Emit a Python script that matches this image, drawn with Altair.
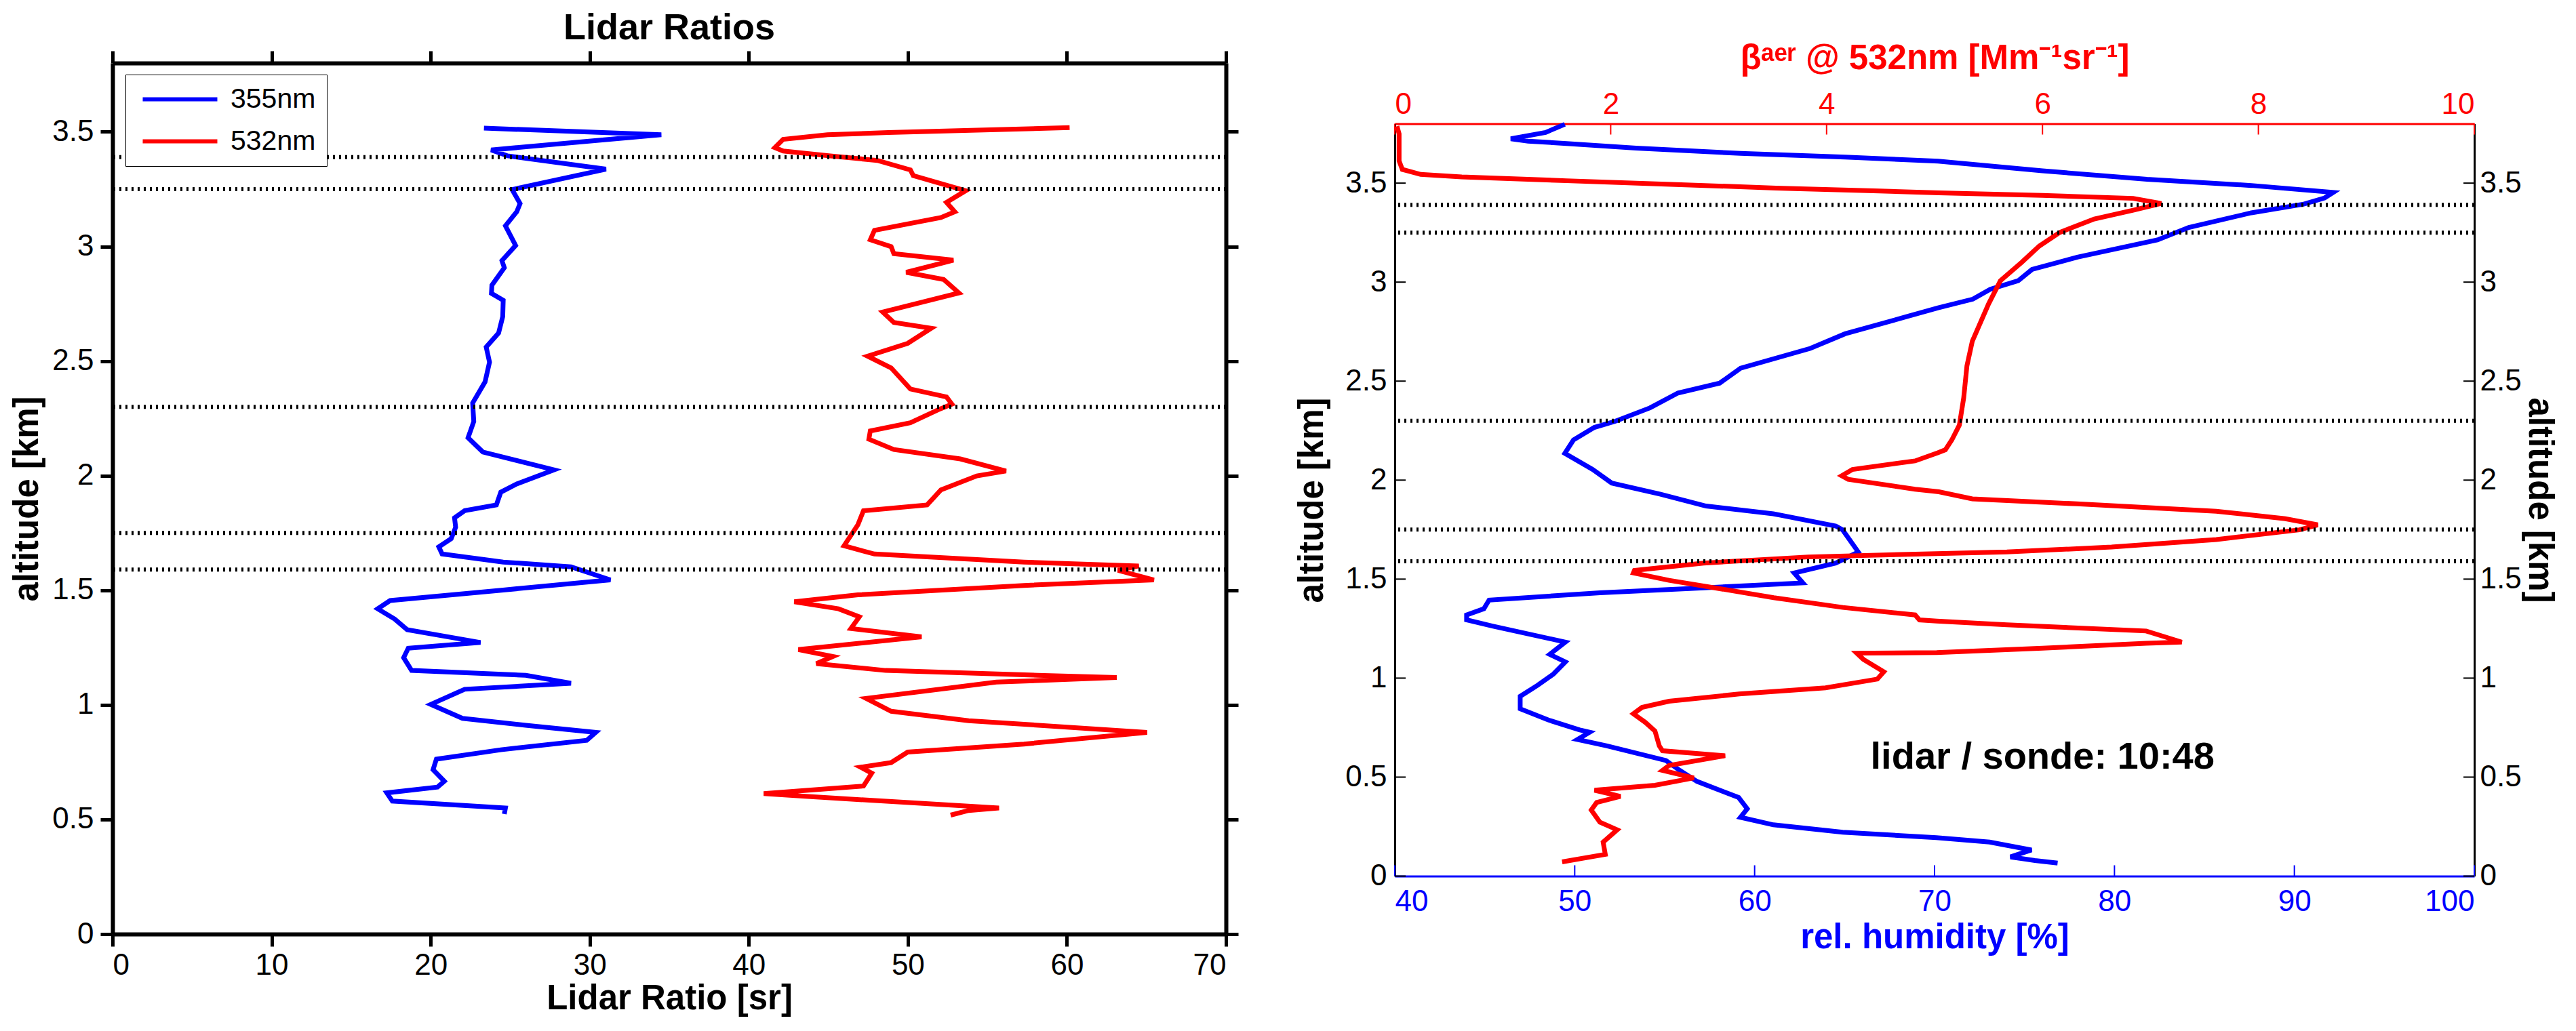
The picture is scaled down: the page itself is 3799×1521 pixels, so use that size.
import altair as alt
import pandas as pd

# ---------------- data ----------------
SERIES = ["355nm", "532nm"]

LR355_ALT = [3.516, 3.487, 3.421, 3.395, 3.337, 3.248, 3.187, 3.151, 3.090, 3.004, 2.938, 2.907,
             2.831, 2.795, 2.765, 2.694, 2.622, 2.561, 2.495, 2.409, 2.317, 2.236, 2.165, 2.103,
             2.025, 1.964, 1.928, 1.872, 1.847, 1.816, 1.775, 1.725, 1.689, 1.658, 1.623, 1.602,
             1.545, 1.501, 1.455, 1.419, 1.374, 1.328, 1.272, 1.247, 1.206, 1.150, 1.129, 1.094,
             1.068, 1.002, 0.941, 0.911, 0.880, 0.845, 0.804, 0.763, 0.717, 0.667, 0.641, 0.616,
             0.580, 0.550, 0.524]
LR355_VAL = [23.35, 34.5, 23.8, 24.84, 31.02, 25.12, 25.62, 25.41, 24.70, 25.34, 24.48, 24.63,
             23.85, 23.82, 24.56, 24.53, 24.27, 23.49, 23.70, 23.42, 22.64, 22.71, 22.35, 23.28,
             27.75, 25.41, 24.41, 24.13, 22.14, 21.50, 21.57, 21.29, 20.51, 20.72, 24.56, 28.82,
             31.30, 24.56, 17.45, 16.67, 17.74, 18.52, 23.13, 18.59, 18.30, 18.80, 25.98, 28.82,
             22.14, 20.01, 22.0, 25.98, 30.38, 29.81, 24.41, 20.36, 20.15, 20.86, 20.43, 17.24,
             17.59, 24.70, 24.63]

LR532_ALT = [3.518, 3.497, 3.487, 3.467, 3.431, 3.416, 3.395, 3.375, 3.334, 3.309, 3.243, 3.192,
             3.151, 3.126, 3.070, 3.029, 2.999, 2.968, 2.940, 2.887, 2.856, 2.797, 2.714, 2.668,
             2.643, 2.577, 2.521, 2.470, 2.378, 2.343, 2.312, 2.287, 2.231, 2.195, 2.159, 2.114,
             2.073, 2.020, 1.999, 1.938, 1.872, 1.847, 1.786, 1.694, 1.658, 1.623, 1.606, 1.587,
             1.545, 1.521, 1.480, 1.450, 1.419, 1.384, 1.333, 1.297, 1.241, 1.211, 1.180, 1.150,
             1.129, 1.119, 1.099, 1.028, 0.972, 0.931, 0.880, 0.829, 0.794, 0.748, 0.728, 0.702,
             0.646, 0.613, 0.600, 0.550, 0.539, 0.519]
LR532_VAL = [60.17, 48.77, 44.95, 42.16, 41.64, 42.16, 45.12, 48.08, 50.16, 50.34, 53.64, 52.43,
             52.95, 52.08, 47.90, 47.64, 48.95, 49.12, 52.86, 49.90, 52.25, 53.21, 48.42, 49.12,
             51.47, 49.99, 47.47, 48.95, 50.16, 52.43, 52.77, 51.90, 50.16, 47.64, 47.55, 49.12,
             53.30, 56.17, 54.34, 52.08, 51.21, 47.21, 46.86, 45.99, 47.90, 57.30, 64.52, 63.21,
             65.47, 57.30, 46.86, 42.86, 45.64, 46.95, 46.42, 50.86, 43.12, 45.29, 44.25, 48.60,
             58.17, 63.13, 55.56, 47.38, 48.95, 53.82, 65.04, 57.30, 49.99, 48.95, 47.03, 47.73,
             47.21, 40.94, 43.73, 55.73, 53.82, 52.69]

RH_ALT = [3.797, 3.756, 3.724, 3.712, 3.700, 3.677, 3.650, 3.631, 3.611, 3.562, 3.519, 3.488,
          3.453, 3.425, 3.394, 3.350, 3.276, 3.213, 3.126, 3.064, 3.007, 2.964, 2.914, 2.870,
          2.827, 2.739, 2.665, 2.565, 2.490, 2.440, 2.365, 2.297, 2.266, 2.203, 2.135, 2.054,
          1.985, 1.929, 1.869, 1.830, 1.768, 1.749, 1.637, 1.581, 1.531, 1.481, 1.456, 1.431,
          1.394, 1.350, 1.319, 1.294, 1.263, 1.182, 1.120, 1.082, 1.020, 0.964, 0.908, 0.845,
          0.789, 0.739, 0.727, 0.690, 0.658, 0.584, 0.534, 0.478, 0.397, 0.340, 0.297, 0.259,
          0.222, 0.194, 0.172, 0.132, 0.097, 0.079, 0.066]
RH_VAL = [49.45, 48.38, 46.45, 47.41, 49.54, 53.41, 59.22, 65.03, 70.2, 76.0, 81.81, 87.61,
          92.16, 91.68, 90.52, 87.61, 84.13, 82.39, 77.94, 75.42, 74.65, 73.10, 72.13, 70.2,
          68.51, 65.03, 63.09, 59.22, 58.06, 55.74, 54.19, 52.25, 51.09, 49.93, 49.45, 50.99,
          52.06, 54.77, 57.3, 61.04, 64.51, 64.89, 65.76, 64.51, 62.20, 62.68, 57.19, 51.41,
          45.24, 44.95, 43.99, 43.99, 45.43, 49.48, 48.61, 49.48, 48.81, 47.94, 46.97, 46.97,
          48.52, 50.25, 50.83, 50.15, 51.79, 55.07, 55.84, 56.80, 59.11, 59.59, 59.21, 61.04,
          64.89, 70.1, 73.06, 75.39, 74.22, 75.58, 76.84]

BETA_ALT = [3.787, 3.749, 3.612, 3.569, 3.544, 3.531, 3.512, 3.494, 3.475, 3.460, 3.451, 3.438,
            3.423, 3.397, 3.363, 3.319, 3.251, 3.182, 3.101, 3.007, 2.889, 2.702, 2.577, 2.415,
            2.278, 2.203, 2.153, 2.138, 2.097, 2.054, 2.022, 2.004, 1.954, 1.941, 1.905, 1.880,
            1.843, 1.805, 1.774, 1.749, 1.700, 1.662, 1.637, 1.629, 1.612, 1.581, 1.544, 1.531,
            1.494, 1.450, 1.406, 1.357, 1.319, 1.294, 1.288, 1.269, 1.238, 1.182, 1.176, 1.151,
            1.129, 1.126, 1.095, 1.032, 0.995, 0.951, 0.920, 0.883, 0.852, 0.820, 0.777, 0.733,
            0.658, 0.633, 0.608, 0.559, 0.534, 0.496, 0.459, 0.434, 0.403, 0.372, 0.334, 0.272,
            0.234, 0.172, 0.110, 0.072]
BETA_VAL = [0.02, 0.04, 0.04, 0.07, 0.24, 0.62, 1.59, 2.56, 3.53, 4.49, 5.04, 6.0,
            6.84, 7.10, 6.84, 6.48, 6.16, 5.97, 5.81, 5.61, 5.50, 5.35, 5.30, 5.27,
            5.23, 5.16, 5.10, 5.03, 4.82, 4.24, 4.14, 4.20, 4.82, 5.04, 5.35, 6.32,
            7.61, 8.25, 8.55, 8.38, 7.61, 6.64, 5.67, 5.02, 3.83, 2.86, 2.22, 2.21,
            2.54, 3.03, 3.51, 4.15, 4.82, 4.86, 5.02, 5.67, 6.96, 7.29, 6.96, 6.0,
            5.02, 4.28, 4.34, 4.53, 4.47, 3.99, 3.19, 2.54, 2.29, 2.21, 2.32, 2.41,
            2.45, 2.48, 3.06, 2.54, 2.48, 2.77, 2.41, 1.85, 2.09, 1.87, 1.82, 1.90,
            2.06, 1.93, 1.95, 1.55]

LAYER_ALT = [3.39, 3.25, 2.30, 1.75, 1.59]

LR_TICKS = [0, 10, 20, 30, 40, 50, 60, 70]
ALT_TICKS = [0, 0.5, 1, 1.5, 2, 2.5, 3, 3.5]
RH_TICKS = [40, 50, 60, 70, 80, 90, 100]
BETA_TICKS = [0, 2, 4, 6, 8, 10]

NOTE_TEXT = ["lidar / sonde: 10:48"]
NOTE_RH = [76.0]
NOTE_ALT = [0.60]

# ---------------- styling ----------------
BLUE = "#0000ff"
RED = "#ff0000"
FONT = "Liberation Sans"
LBL = 44
TTL = 51
NUMFMT = "~f"
LW = 7

W1, H1 = 1642, 1285
W2, H2 = 1592, 1110

# ---------------- left panel: lidar ratios ----------------
lr_df = pd.concat([
    pd.DataFrame({"alt": LR355_ALT, "lr": LR355_VAL, "series": SERIES[0],
                  "i": list(range(len(LR355_ALT)))}),
    pd.DataFrame({"alt": LR532_ALT, "lr": LR532_VAL, "series": SERIES[1],
                  "i": list(range(len(LR532_ALT)))}),
], ignore_index=True)

x_lr = alt.Scale(domain=[0, 70], nice=False, zero=False)
y_alt1 = alt.Scale(domain=[0, 3.8], nice=False, zero=False)

thick = dict(domainColor="black", domainWidth=6, tickColor="black", tickWidth=5,
             tickSize=18, grid=False, labelFont=FONT, labelFontSize=LBL,
             labelColor="black", titleFont=FONT, titleFontSize=TTL,
             titleFontWeight="bold", titleColor="black")

ax_lr_bottom = alt.Axis(orient="bottom", values=LR_TICKS, format=NUMFMT,
                        title="Lidar Ratio [sr]", labelPadding=6, titlePadding=2, **thick)
ax_alt_left1 = alt.Axis(orient="left", values=ALT_TICKS, format=NUMFMT,
                        title="altitude [km]", labelPadding=10, titlePadding=10, **thick)
ax_lr_top = alt.Axis(orient="top", values=LR_TICKS, labels=False, title=None, **thick)
ax_alt_right1 = alt.Axis(orient="right", values=ALT_TICKS, labels=False, title=None, **thick)

lr_lines = alt.Chart(lr_df).mark_line(strokeWidth=LW).encode(
    x=alt.X("lr:Q", scale=x_lr, axis=ax_lr_bottom),
    y=alt.Y("alt:Q", scale=y_alt1, axis=ax_alt_left1),
    color=alt.Color("series:N",
                    scale=alt.Scale(domain=SERIES, range=[BLUE, RED]),
                    legend=alt.Legend(orient="none", legendX=19, legendY=17, title=None,
                                      symbolType="M-1,0H9", symbolStrokeWidth=6,
                                      symbolSize=484, labelFont=FONT, labelFontSize=41,
                                      labelColor="black", labelOffset=98,
                                      strokeColor="black", fillColor="white",
                                      padding=16, rowPadding=20)),
    order=alt.Order("i:Q"),
)

layer_df = pd.DataFrame({"alt": LAYER_ALT})
dots_left = alt.Chart(layer_df).mark_rule(color="black", strokeWidth=6, strokeDash=[3, 6]).encode(
    y=alt.Y("alt:Q", scale=y_alt1, axis=ax_alt_left1)
)

frame_df = pd.DataFrame({"fx": [LR_TICKS[0], LR_TICKS[-1]], "fy": [0, 3.8]})
frame_left = alt.Chart(frame_df).mark_point(opacity=0).encode(
    x=alt.X("fx:Q", scale=x_lr, axis=ax_lr_top),
    y=alt.Y("fy:Q", scale=y_alt1, axis=ax_alt_right1),
)

left = alt.layer(alt.layer(lr_lines, dots_left), frame_left).resolve_scale(
    x="independent", y="independent"
).properties(
    width=W1, height=H1,
    title=alt.Title("Lidar Ratios", font=FONT, fontSize=54, fontWeight="bold",
                    color="black", offset=4, frame="group"),
)

# ---------------- right panel: backscatter and humidity ----------------
rh_df = pd.DataFrame({"alt": RH_ALT, "rh": RH_VAL, "i": list(range(len(RH_ALT)))})
beta_df = pd.DataFrame({"alt": BETA_ALT, "beta": BETA_VAL, "i": list(range(len(BETA_ALT)))})

x_rh = alt.Scale(domain=[RH_TICKS[0], RH_TICKS[-1]], nice=False, zero=False)
x_beta = alt.Scale(domain=[BETA_TICKS[0], BETA_TICKS[-1]], nice=False, zero=False)
y_alt2 = alt.Scale(domain=[0, 3.8], nice=False, zero=False)

thin = dict(ticks=False, grid=False, domainWidth=3, labelFont=FONT, labelFontSize=LBL,
            titleFont=FONT, titleFontSize=TTL, titleFontWeight="bold")

ax_rh = alt.Axis(orient="bottom", values=RH_TICKS, format=NUMFMT, domainColor=BLUE,
                 labelColor=BLUE, labelPadding=16, title="rel. humidity  [%]",
                 titleColor=BLUE, titlePadding=6, **thin)
ax_beta = alt.Axis(orient="top", values=BETA_TICKS, format=NUMFMT, domainColor=RED,
                   labelColor=RED, labelPadding=6, title="βᵃᵉʳ @ 532nm  [Mm⁻¹sr⁻¹]",
                   titleColor=RED, titlePadding=20, **thin)
ax_alt_left2 = alt.Axis(orient="left", values=ALT_TICKS, format=NUMFMT, domainColor="black",
                        labelColor="black", labelPadding=12, title="altitude [km]",
                        titleColor="black", titlePadding=22, **thin)
ax_alt_right2 = alt.Axis(orient="right", values=ALT_TICKS, format=NUMFMT, domainColor="black",
                         labelColor="black", labelPadding=8, title="altitude [km]",
                         titleColor="black", titlePadding=0, **thin)

rh_line = alt.Chart(rh_df).mark_line(color=BLUE, strokeWidth=LW).encode(
    x=alt.X("rh:Q", scale=x_rh, axis=ax_rh),
    y=alt.Y("alt:Q", scale=y_alt2, axis=ax_alt_left2),
    order=alt.Order("i:Q"),
)
rh_ticks = alt.Chart(pd.DataFrame({"v": RH_TICKS})).mark_rule(color=BLUE, strokeWidth=2).encode(
    x=alt.X("v:Q", scale=x_rh, axis=ax_rh),
    y=alt.value(H2), y2=alt.value(H2 - 16),
)
left_ticks = alt.Chart(pd.DataFrame({"a": ALT_TICKS})).mark_rule(color="black", strokeWidth=2).encode(
    y=alt.Y("a:Q", scale=y_alt2, axis=ax_alt_left2),
    x=alt.value(0), x2=alt.value(16),
)
note = alt.Chart(pd.DataFrame({"rh": NOTE_RH, "alt": NOTE_ALT, "t": NOTE_TEXT})).mark_text(
    font=FONT, fontSize=56, fontWeight="bold", color="black", align="center", baseline="middle"
).encode(
    x=alt.X("rh:Q", scale=x_rh, axis=ax_rh),
    y=alt.Y("alt:Q", scale=y_alt2, axis=ax_alt_left2),
    text="t:N",
)
rh_group = alt.layer(rh_line, rh_ticks, left_ticks, note)

beta_line = alt.Chart(beta_df).mark_line(color=RED, strokeWidth=LW).encode(
    x=alt.X("beta:Q", scale=x_beta, axis=ax_beta),
    y=alt.Y("alt:Q", scale=y_alt2, axis=ax_alt_right2),
    order=alt.Order("i:Q"),
)
beta_ticks = alt.Chart(pd.DataFrame({"v": BETA_TICKS})).mark_rule(color=RED, strokeWidth=2).encode(
    x=alt.X("v:Q", scale=x_beta, axis=ax_beta),
    y=alt.value(0), y2=alt.value(16),
)
right_ticks = alt.Chart(pd.DataFrame({"a": ALT_TICKS})).mark_rule(color="black", strokeWidth=2).encode(
    y=alt.Y("a:Q", scale=y_alt2, axis=ax_alt_right2),
    x=alt.value(W2 - 16), x2=alt.value(W2),
)
dots_right = alt.Chart(layer_df).mark_rule(color="black", strokeWidth=6, strokeDash=[3, 6]).encode(
    y=alt.Y("alt:Q", scale=y_alt2, axis=ax_alt_right2)
)
beta_group = alt.layer(beta_line, beta_ticks, right_ticks, dots_right)

right = alt.layer(rh_group, beta_group).resolve_scale(
    x="independent", y="independent"
).properties(width=W2, height=H2)

chart = alt.hconcat(left, right, spacing=80, center=True).properties(
    padding={"left": 6, "top": 6, "right": 14, "bottom": 4}, background="white"
).configure_view(stroke=None)

chart.save("out.html", embed_options={"renderer": "svg", "actions": False})
